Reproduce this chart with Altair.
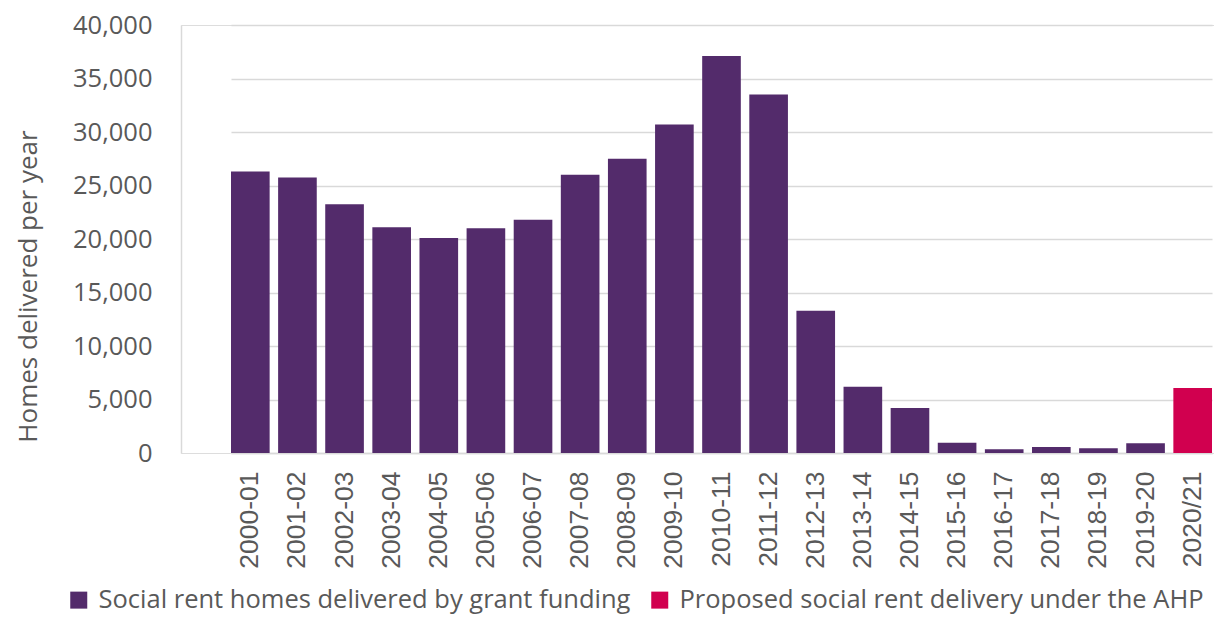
import altair as alt
import pandas as pd

years = ["2000-01", "2001-02", "2002-03", "2003-04", "2004-05", "2005-06", "2006-07",
         "2007-08", "2008-09", "2009-10", "2010-11", "2011-12", "2012-13", "2013-14",
         "2014-15", "2015-16", "2016-17", "2017-18", "2018-19", "2019-20", "2020/21"]
homes = [26300, 25750, 23250, 21100, 20100, 21000, 21800, 26000, 27500, 30700, 37100,
         33500, 13300, 6200, 4200, 950, 340, 560, 440, 900, 6070]
series_names = ["Social rent homes delivered by grant funding",
                "Proposed social rent delivery under the AHP"]
series = [series_names[0]] * 20 + [series_names[1]]
colors = ["#532B6B", "#D1004F"]
y_ticks = [0, 5000, 10000, 15000, 20000, 25000, 30000, 35000, 40000]

df = pd.DataFrame({"year": years, "homes": homes, "series": series})

W, H = 1033, 428

chart = alt.Chart(df).mark_bar().encode(
    x=alt.X("year:N", sort=years,
            scale=alt.Scale(range=[50, 1031], paddingInner=0.18, paddingOuter=0),
            axis=alt.Axis(title=None, labelAngle=-90, labelFont="Liberation Sans",
                          labelFontSize=26.5, labelColor="#595959", labelPadding=18,
                          ticks=False, domain=True, domainColor="#D9D9D9",
                          domainWidth=1.5, grid=False)),
    y=alt.Y("homes:Q",
            scale=alt.Scale(domain=[0, 40000], nice=False),
            axis=alt.Axis(title="Homes delivered per year", values=y_ticks, format=",d",
                          labelFont="Open Sans", labelFontSize=25.5, labelColor="#595959",
                          labelPadding=29, ticks=False, domain=True,
                          domainColor="#D9D9D9", domainWidth=1.5,
                          grid=True, gridColor="#D9D9D9", gridWidth=1.5,
                          titleFont="Open Sans", titleFontSize=26, titleColor="#595959",
                          titleFontWeight="normal", titleAngle=270, titleX=-145,
                          titleY=261, titleAlign="center", titleBaseline="alphabetic")),
    color=alt.Color("series:N",
                    scale=alt.Scale(domain=series_names, range=colors),
                    legend=alt.Legend(title=None, orient="none", direction="horizontal",
                                      legendX=-115, legendY=562,
                                      symbolType="square", symbolSize=289,
                                      symbolStrokeWidth=0, labelFont="Open Sans",
                                      labelFontSize=25.5, labelColor="#595959",
                                      labelOffset=7, columnPadding=16,
                                      labelLimit=800)),
).properties(
    width=W, height=H,
    autosize=alt.AutoSizeParams(type="none"),
    padding={"left": 173, "top": 17, "right": 0, "bottom": 161},
).configure_view(stroke=None).configure(background="white")

chart.save("out.html", embed_options={"renderer": "svg", "actions": False})
